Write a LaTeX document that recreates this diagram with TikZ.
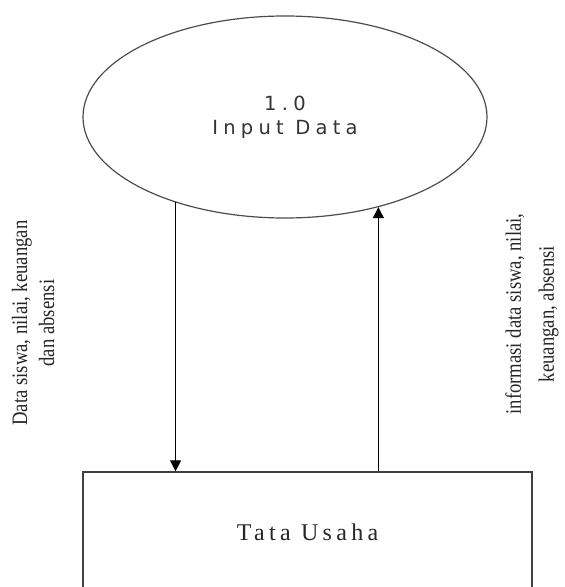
\documentclass[tikz,border=0pt]{standalone}
\usepackage{fontspec}
\usetikzlibrary{shapes.geometric,arrows.meta}
\newfontfamily\procfont[LetterSpace=27]{DejaVu Sans}
\newfontfamily\entfont[LetterSpace=18]{Liberation Serif}
\newfontfamily\flowfont[FakeStretch=0.85]{Liberation Serif}

\begin{document}
\begin{tikzpicture}[
        x                 = 1bp,
        y                 = -1bp,
        process/.style    = {ellipse, draw=black!70, line width=1.2bp, minimum width=404bp, minimum height=202bp,
                             inner sep=0pt, align=center, text=black!80, font=\procfont\fontsize{19.5bp}{24bp}\selectfont},
        entity/.style     = {rectangle, draw=black!75, line width=1.4bp, minimum width=449bp, minimum height=120bp,
                             text=black!85, font=\entfont\fontsize{24bp}{28bp}\selectfont},
        flow/.style       = {draw, line width=1.1bp, -{Triangle[width=11bp,length=11bp]}},
        flowlabel/.style  = {rotate=90, align=center, text=black!85, font=\flowfont\fontsize{22bp}{27bp}\selectfont}
      ]
        \useasboundingbox (0,0) rectangle (565,587);
        \node[process] (input) at (285,117) {1.0\\Input Data};
        \node[entity]  (tu)    at (307.5,532) {Tata Usaha};
        % data flows
        \draw[flow] (input.218) -- (input.218 |- tu.north);
        \draw[flow] (tu.north -| input.316) -- (input.316);
        \node[flowlabel] (lblin)  at (33,323)  {Data siswa, nilai, keuangan\\dan absensi};
        \node[flowlabel, font=\flowfont\fontsize{22bp}{33bp}\selectfont] (lblout) at (532,314)
                {informasi data siswa, nilai,\\keuangan, absensi};
\end{tikzpicture}
\end{document}
